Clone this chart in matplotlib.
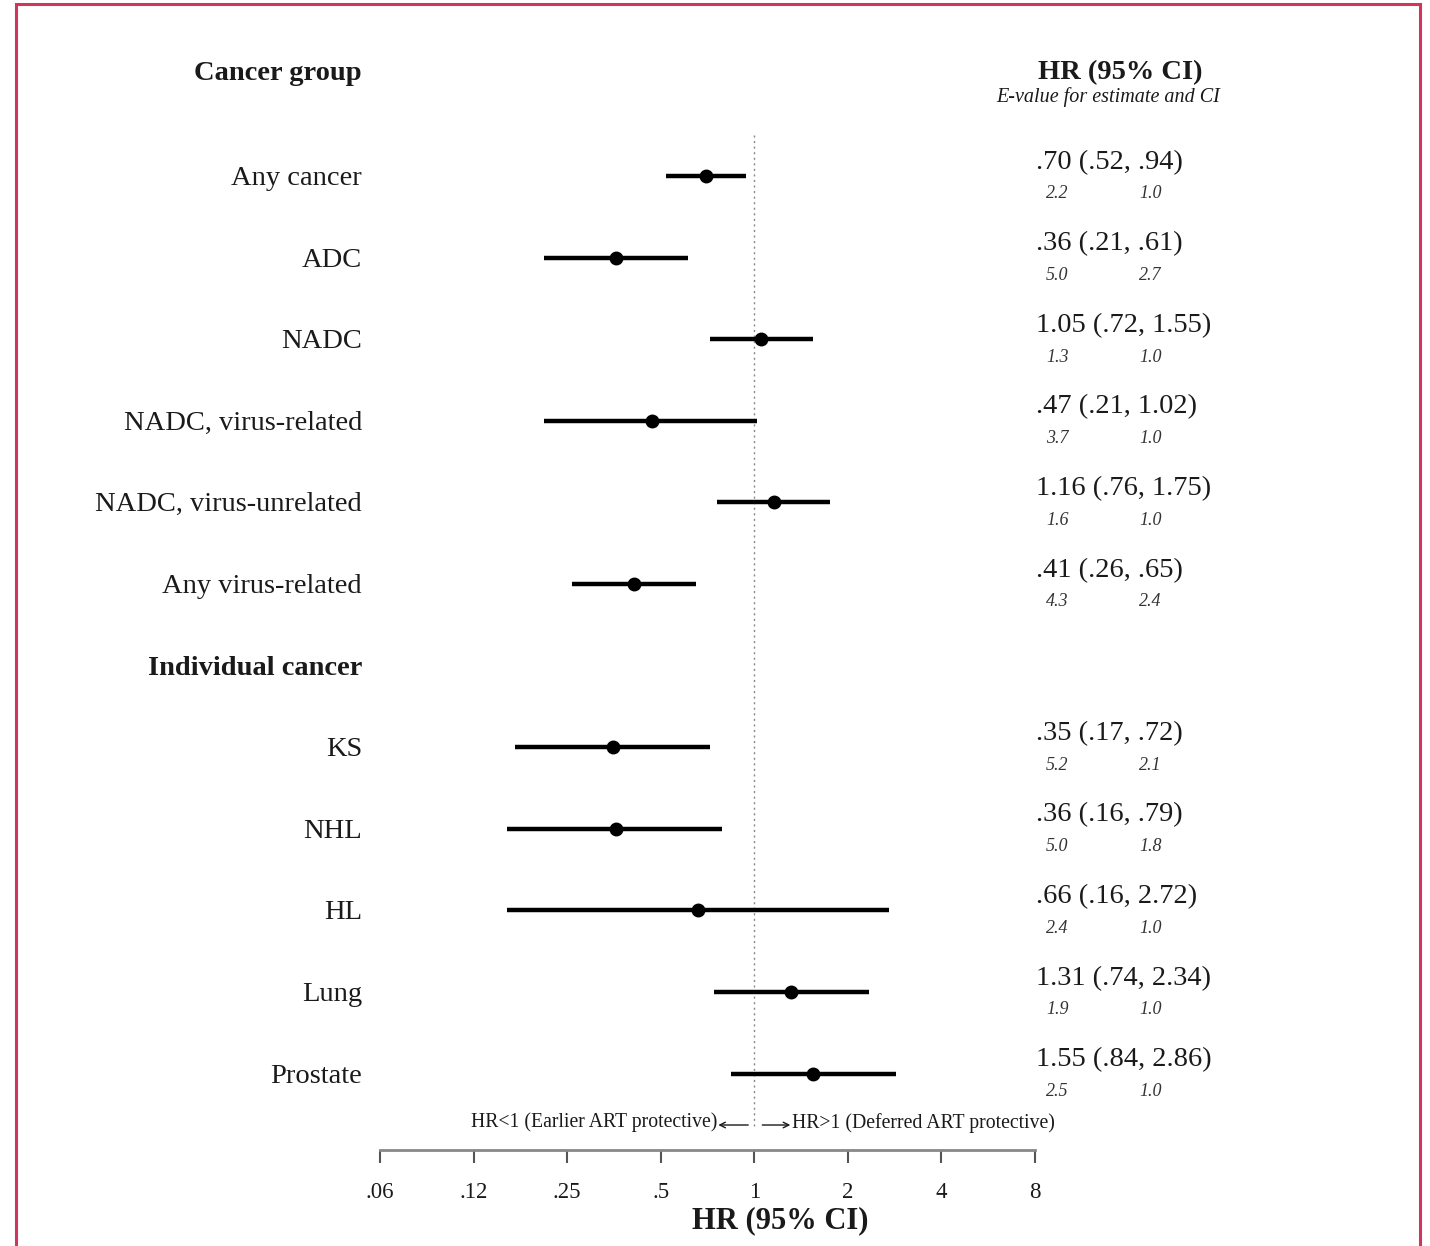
import matplotlib
matplotlib.use("Agg")
import matplotlib.pyplot as plt
import matplotlib.transforms as mtransforms
from matplotlib.patches import Rectangle

plt.rcParams['font.family'] = ['Liberation Serif', 'DejaVu Serif']

# data
labels = ['Any cancer', 'ADC', 'NADC', 'NADC, virus-related', 'NADC, virus-unrelated',
          'Any virus-related', 'Individual cancer', 'KS', 'NHL', 'HL', 'Lung', 'Prostate']
is_header = [False, False, False, False, False, False, True, False, False, False, False, False]
hr = [0.70, 0.36, 1.05, 0.47, 1.16, 0.41, None, 0.35, 0.36, 0.66, 1.31, 1.55]
lo = [0.52, 0.21, 0.72, 0.21, 0.76, 0.26, None, 0.17, 0.16, 0.16, 0.74, 0.84]
hi = [0.94, 0.61, 1.55, 1.02, 1.75, 0.65, None, 0.72, 0.79, 2.72, 2.34, 2.86]
hr_text = ['.70 (.52, .94)', '.36 (.21, .61)', '1.05 (.72, 1.55)', '.47 (.21, 1.02)',
           '1.16 (.76, 1.75)', '.41 (.26, .65)', '', '.35 (.17, .72)', '.36 (.16, .79)',
           '.66 (.16, 2.72)', '1.31 (.74, 2.34)', '1.55 (.84, 2.86)']
e_est = ['2.2', '5.0', '1.3', '3.7', '1.6', '4.3', '', '5.2', '5.0', '2.4', '1.9', '2.5']
e_ci = ['1.0', '2.7', '1.0', '1.0', '1.0', '2.4', '', '2.1', '1.8', '1.0', '1.0', '1.0']
tick_vals = [1/16, 1/8, 1/4, 1/2, 1, 2, 4, 8]
tick_labels = ['.06', '.12', '.25', '.5', '1', '2', '4', '8']

W, H = 1430, 1246
fig = plt.figure(figsize=(W/100, H/100), dpi=100)
fig.patch.set_facecolor('white')

def fx(px):
    return px / W

def fy(py):
    return 1 - py / H

ax = fig.add_axes([fx(380), fy(1150), fx(1035) - fx(380), (1150 - 135) / H])
ax.set_xscale('log', base=2)
ax.set_xlim(1/16, 8)
ax.set_ylim((1150 - 176) / 81.6, (135 - 176) / 81.6)

txt = '#1a1a1a'
for i in range(len(labels)):
    if hr[i] is None:
        continue
    ax.plot([lo[i], hi[i]], [i, i], color='black', lw=3.2, solid_capstyle='butt', zorder=3)
    ax.plot(hr[i], i, 'o', color='black', ms=9, zorder=4)

ax.vlines(1, -0.5, 11.65, color='#888888', lw=1, linestyles=(0, (1.5, 2.5)), zorder=1)

for s in ['left', 'right', 'top']:
    ax.spines[s].set_visible(False)
ax.spines['bottom'].set_color('#888888')
ax.spines['bottom'].set_linewidth(2)
ax.set_yticks([])
ax.set_xticks(tick_vals)
ax.set_xticklabels(tick_labels)
ax.xaxis.set_minor_locator(matplotlib.ticker.NullLocator())
ax.tick_params(axis='x', direction='out', length=9, width=1.5, color='#555555',
               pad=14, labelsize=16.5, labelcolor=txt)
ax.patch.set_alpha(0)

trans = mtransforms.blended_transform_factory(fig.transFigure, ax.transData)

# left column
ax.text(fx(362), -1.26, 'Cancer group', transform=trans, ha='right', va='center',
        fontsize=20.5, fontweight='bold', color=txt, clip_on=False)
for i, lab in enumerate(labels):
    ax.text(fx(362), i + 0.03, lab, transform=trans, ha='right', va='center',
            fontsize=20.5, fontweight='bold' if is_header[i] else 'normal',
            color=txt, clip_on=False)

# right column
ax.text(fx(1120), -1.27, 'HR (95% CI)', transform=trans, ha='center', va='center',
        fontsize=20.5, fontweight='bold', color=txt, clip_on=False)
ax.text(fx(1108), -0.97, 'E-value for estimate and CI', transform=trans, ha='center',
        va='center', fontsize=14.5, style='italic', color=txt, clip_on=False)
for i in range(len(labels)):
    if not hr_text[i]:
        continue
    ax.text(fx(1036), i - 0.17, hr_text[i], transform=trans, ha='left', va='center',
            fontsize=20.5, color=txt, clip_on=False)
    ax.text(fx(1046), i + 0.22, e_est[i], transform=trans, ha='left', va='center',
            fontsize=13, style='italic', color='#333333', clip_on=False)
    ax.text(fx(1139), i + 0.22, e_ci[i], transform=trans, ha='left', va='center',
            fontsize=13, style='italic', color='#333333', clip_on=False)

# direction notes
ax.text(0.762, 11.6, 'HR<1 (Earlier ART protective)', ha='right', va='center',
        fontsize=14.2, color=txt, clip_on=False)
ax.text(1.32, 11.6, 'HR>1 (Deferred ART protective)', ha='left', va='center',
        fontsize=14.2, color=txt, clip_on=False)
ax.annotate('', xy=(0.766, 11.63), xytext=(0.956, 11.63), annotation_clip=False,
            arrowprops=dict(arrowstyle='->', color=txt, lw=1, shrinkA=0, shrinkB=0))
ax.annotate('', xy=(1.306, 11.63), xytext=(1.061, 11.63), annotation_clip=False,
            arrowprops=dict(arrowstyle='->', color=txt, lw=1, shrinkA=0, shrinkB=0))

fig.text(fx(780), fy(1221), 'HR (95% CI)', ha='center', va='center',
         fontsize=22, fontweight='bold', color=txt)

# frame
fig.patches.append(Rectangle((fx(16), fy(1260)), fx(1420) - fx(16), fy(4) - fy(1260),
                             transform=fig.transFigure, fill=False,
                             edgecolor='#d2355c', lw=2.2, clip_on=False))

fig.savefig('out.png', dpi=100, facecolor='white')
